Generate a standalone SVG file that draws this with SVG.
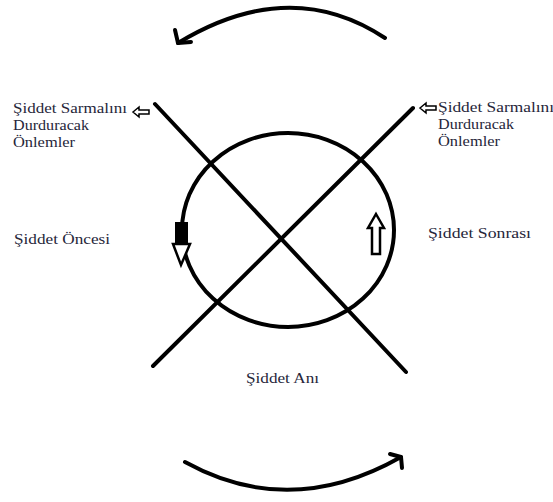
<svg xmlns="http://www.w3.org/2000/svg" width="553" height="502" viewBox="0 0 553 502">
<style>
.k{fill:none;stroke:#000;stroke-width:4;stroke-linecap:round}
.h{fill:#fff;stroke:#000;stroke-width:1.5}
</style>
<rect width="553" height="502" fill="#fff"/>
<g id="connectors">
<path class="k" d="M385,38 Q290,-25 178,43"/>
<path class="k" d="M178,43 L175,30 M178,43 L191,42"/>
<path class="k" d="M185,462 Q290,520 401,457"/>
<path class="k" d="M401,457 L390,454 M401,457 L402,468"/>
<line class="k" x1="155" y1="104" x2="406" y2="372"/>
<line class="k" x1="413" y1="108" x2="153" y2="366"/>
<path class="h" d="M133,112 L139,107 L139,110 L149,110 L149,114 L139,114 L139,117 Z"/>
<path class="h" d="M420,108 L426,103 L426,106 L436,106 L436,110 L426,110 L426,113 Z"/>
</g>
<g id="cycle">
<ellipse cx="288" cy="230" rx="106" ry="97" fill="none" stroke="#000" stroke-width="4"/>
<path d="M175,222 L188,222 L188,243 L175,243 Z" fill="#000"/>
<path d="M173,244 L190,244 L181,265 Z" fill="#fff" stroke="#000" stroke-width="2.5"/>
<path d="M376,214 L384,228 L380,228 L380,254 L372,254 L372,228 L368,228 Z" fill="#fff" stroke="#000" stroke-width="2.5"/>
</g>
<g font-family="Liberation Serif, DejaVu Serif, Times New Roman, serif" font-size="15" fill="#26263a">
<g id="label-left">
<text x="13" y="113" textLength="114" lengthAdjust="spacingAndGlyphs">Şiddet Sarmalını</text>
<text x="13" y="130" textLength="76" lengthAdjust="spacingAndGlyphs">Durduracak</text>
<text x="13" y="147" textLength="62" lengthAdjust="spacingAndGlyphs">Önlemler</text>
</g>
<g id="label-right">
<text x="438" y="112" textLength="116" lengthAdjust="spacingAndGlyphs">Şiddet Sarmalını</text>
<text x="438" y="129" textLength="76" lengthAdjust="spacingAndGlyphs">Durduracak</text>
<text x="438" y="146" textLength="62" lengthAdjust="spacingAndGlyphs">Önlemler</text>
</g>
<g id="label-before"><text x="14" y="244" textLength="96" lengthAdjust="spacingAndGlyphs">Şiddet Öncesi</text></g>
<g id="label-after"><text x="428" y="238" textLength="103" lengthAdjust="spacingAndGlyphs">Şiddet Sonrası</text></g>
<g id="label-moment"><text x="246" y="383" textLength="73" lengthAdjust="spacingAndGlyphs">Şiddet Anı</text></g>
</g>
</svg>
